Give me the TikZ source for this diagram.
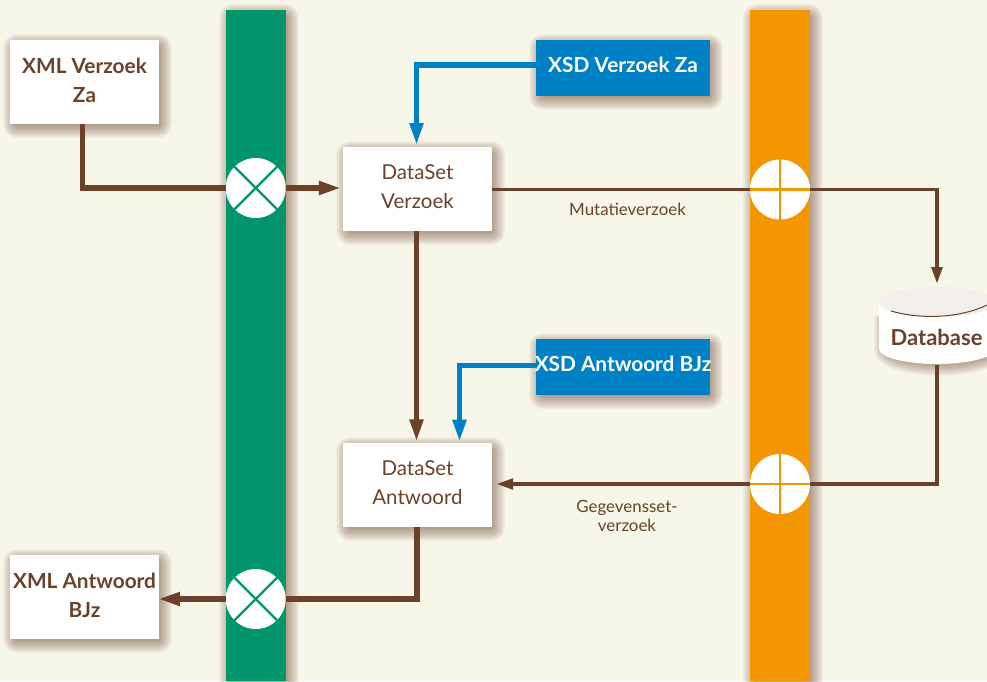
\documentclass[tikz,border=0pt]{standalone}
\usepackage{fontspec}
\setmainfont{Lato}
\usetikzlibrary{arrows.meta,calc,positioning}
\definecolor{bgc}{HTML}{F6F6E9}
\definecolor{brownc}{HTML}{6B4229}
\definecolor{greenc}{HTML}{00956B}
\definecolor{orangec}{HTML}{F39600}
\definecolor{bluec}{HTML}{0080C5}
\definecolor{shadowc}{HTML}{6B4229}
\definecolor{topc}{HTML}{F2EEE9}
\newcommand{\softshadow}[4]{%
  \foreach \s in {10,9,...,-3}{%
    \fill[shadowc,opacity=.045,rounded corners=\s+4]
      ({#1+3-\s},{#2+4-\s}) rectangle ({#3+3+\s},{#4+4+\s});}}
\tikzset{
  x=1pt,y=-1pt,
  boxlab/.style={text=brownc,align=center,inner sep=0pt,yshift=2pt,font=\fontsize{20.5}{29}\selectfont},
  boxw/.style={fill=white,inner sep=0pt,minimum width=149pt,minimum height=84pt},
  boxb/.style={fill=bluec,inner sep=0pt,minimum width=174pt,minimum height=56pt},
  flow/.style={draw=brownc,line width=5.2pt},
  thin flow/.style={draw=brownc,line width=3.8pt},
  bflow/.style={draw=bluec,line width=5.2pt},
  bigtip/.style={-{Triangle[length=22pt,width=13pt]}},
  smalltip/.style={-{Triangle[length=17pt,width=10.5pt]}},
  lab/.style={text=brownc,align=center,font=\fontsize{16.9}{19}\selectfont},
  port/.style={circle,fill=white,inner sep=0pt,minimum size=60pt},
  crossline/.style={line width=2.3pt},
}
\begin{document}
\begin{tikzpicture}
\useasboundingbox (0,0) rectangle (987,681);
\fill[bgc] (0,0) rectangle (987,681);
% shadows
\softshadow{226}{10}{286}{700}
\softshadow{750}{10}{810}{700}
\softshadow{10}{40}{159}{124}
\softshadow{10}{555}{159}{639}
\softshadow{343}{147}{492}{231}
\softshadow{343}{443}{492}{527}
\softshadow{536}{40}{710}{96}
\softshadow{536}{339}{710}{395}
\foreach \s in {8,7,...,-3}{
  \fill[shadowc,opacity=.045] ({882-\s},316) -- ({882-\s},349) .. controls ({882-\s},{360+\s}) and (908,{368+\s}) .. (940,{368+\s}) .. controls (972,{368+\s}) and ({998+\s},{360+\s}) .. ({998+\s},349) -- ({998+\s},316) -- cycle;
}
% bars
\fill[greenc] (226,10) rectangle (286,681);
\fill[orangec] (750,10) rectangle (810,681);
% ports
\node[port] (gv) at (255.7,188) {};
\node[port] (ga) at (255.7,599) {};
\node[port] (ov) at (780,189.5) {};
\node[port] (oa) at (780,484) {};
\foreach \n in {gv,ga}{
  \draw[greenc,crossline] (\n.45) -- (\n.225);
  \draw[greenc,crossline] (\n.135) -- (\n.315);
}
\foreach \n in {ov,oa}{
  \draw[orangec,crossline] (\n.north) -- (\n.south);
  \draw[orangec,crossline] (\n.west) -- (\n.east);
}
% boxes
\node[boxw,label={[boxlab,font=\fontsize{20.8}{29}\selectfont\bfseries]center:{XML Verzoek\\Za}}] (xv) at (84.5,82) {};
\node[boxw,label={[boxlab,font=\fontsize{20.8}{29}\selectfont\bfseries]center:{XML Antwoord\\BJz}}] (xa) at (84.5,597) {};
\node[boxw,label={[boxlab]center:{DataSet\\Verzoek}}] (dv) at (417.5,189) {};
\node[boxw,label={[boxlab]center:{DataSet\\Antwoord}}] (da) at (417.5,485) {};
\node[boxb,label={[boxlab,text=white,yshift=1.5pt,font=\fontsize{20.8}{29}\selectfont\bfseries]center:{XSD Verzoek Za}}] (sv) at (623,68) {};
\node[boxb,label={[boxlab,text=white,yshift=1.5pt,font=\fontsize{20.8}{29}\selectfont\bfseries]center:{XSD Antwoord BJz}}] (sa) at (623,367) {};
% database
\fill[white] (879,302) -- (879,349) .. controls (879,357) and (905,364) .. (937,364) .. controls (969,364) and (995,357) .. (995,349) -- (995,302) -- cycle;
\fill[topc] (937,302) ellipse[x radius=58,y radius=15];
\draw[brownc,line width=1pt] (891,311) .. controls (918,319) and (958,319) .. (987,305);
\node[text=brownc,font=\fontsize{22}{26}\selectfont\bfseries,inner sep=0pt] (db) at (936.5,337) {Database};
\coordinate (dbt) at (937,284);
\coordinate (dbb) at (937,365);
\coordinate (ka) at (82.5,124);
\coordinate (kb) at (416.5,0);
\coordinate (kc) at (417,527);
\coordinate (kd) at (459.5,441.7);
\coordinate (ke) at (416.5,145);
% connectors
\draw[flow] (ka) |- (gv.west);
\draw[flow,bigtip,shorten >=2pt] (gv.east) -- (gv.east -| dv.west);
\draw[thin flow] (ov.west -| dv.east) -- (ov.west);
\draw[thin flow,smalltip] (ov.east) -| (dbt);
\draw[thin flow] (dbb) |- (oa.east);
\draw[thin flow,smalltip,shorten >=4pt] (oa.west) -- (oa.west -| da.east);
\draw[flow,bigtip,shorten >=1.5pt] (dv.south -| kb) -- (da.north -| kb);
\draw[flow] (kc) |- (ga.east);
\draw[flow,bigtip,shorten >=-1pt] (ga.west) -- (ga.west -| xa.east);
\draw[bflow,bigtip] ($(sv.west)+(0,-3)$) -| (ke);
\draw[bflow,bigtip] ($(sa.west)+(0,-1.3)$) -| (kd);
% labels
\node[lab] (m) at (627.5,209) {Mutatieverzoek};
\node[lab] (g) at (627,515.5) {Gegevensset-\\verzoek};
\end{tikzpicture}
\end{document}
